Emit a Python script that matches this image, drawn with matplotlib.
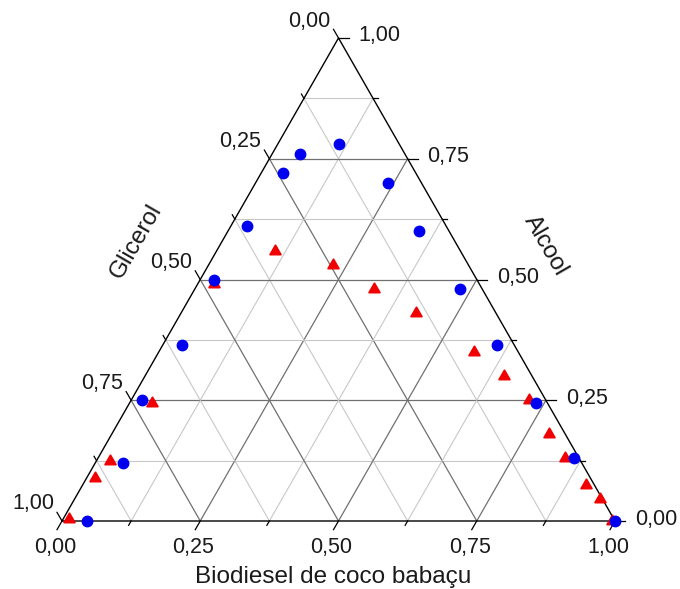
import matplotlib
matplotlib.use('Agg')
import matplotlib.pyplot as plt
import numpy as np

plt.rcParams['font.family'] = ['Liberation Sans', 'DejaVu Sans']

# composicoes (fracao) : biodiesel, alcool, glicerol
circ_biodiesel = [0.11, 0.05, 0.04, 0.24, 0.03, 0.345, 0.025, 0.48,
                  0.035, 0.605, 0.02, 0.735, 0.05, 0.86, 0.045, 1.00]
circ_alcool = [0.78, 0.76, 0.72, 0.70, 0.61, 0.60, 0.50, 0.48,
               0.365, 0.365, 0.25, 0.245, 0.12, 0.13, 0.00, 0.00]
circ_glicerol = [0.11, 0.19, 0.24, 0.06, 0.36, 0.055, 0.475, 0.04,
                 0.60, 0.03, 0.73, 0.02, 0.83, 0.01, 0.955, 0.00]

tri_biodiesel = [0.105, 0.225, 0.325, 0.425, 0.03, 0.57, 0.65, 0.72, 0.79,
                 0.845, 0.91, 0.95, 0.995, 0.04, 0.025, 0.015, 0.01]
tri_alcool = [0.56, 0.53, 0.48, 0.43, 0.49, 0.35, 0.30, 0.25, 0.18,
              0.13, 0.075, 0.045, 0.00, 0.245, 0.125, 0.09, 0.005]
tri_glicerol = [0.335, 0.245, 0.195, 0.145, 0.48, 0.08, 0.05, 0.03, 0.03,
                0.025, 0.015, 0.005, 0.005, 0.715, 0.85, 0.895, 0.985]

tick_labels = ['0,00', '0,25', '0,50', '0,75', '1,00']
grid_steps = [0.125, 0.25, 0.375, 0.5, 0.625, 0.75, 0.875]
major_steps = [0.25, 0.5, 0.75]

H = np.sqrt(3) / 2


def to_xy(b, a, g):
    b, a, g = np.asarray(b, float), np.asarray(a, float), np.asarray(g, float)
    s = b + a + g
    b, a = b / s, a / s
    return b + a / 2, a * H


fig = plt.figure(figsize=(6.8, 5.89), dpi=100)
ax = fig.add_axes([62 / 680, 68 / 589, 553 / 680, 483 / 589])
ax.set_xlim(0, 1)
ax.set_ylim(0, H)
ax.axis('off')

# pixel -> data
px_x = 1.0 / (fig.get_figwidth() * fig.dpi * ax.get_position().width)
px_y = H / (fig.get_figheight() * fig.dpi * ax.get_position().height)

# grade
for v in grid_steps:
    if v in major_steps:
        col, lw = '#707070', 0.9
    else:
        col, lw = '#c8c8c8', 0.8
    # alcool constante
    ax.plot([v / 2, 1 - v / 2], [v * H, v * H], color=col, lw=lw, zorder=1)
    # biodiesel constante
    ax.plot([v, v + (1 - v) / 2], [0, (1 - v) * H], color=col, lw=lw, zorder=1)
    # glicerol constante
    ax.plot([(1 - v) / 2, 1 - v], [(1 - v) * H, 0], color=col, lw=lw, zorder=1)

# bordas
ax.plot([0, 1, 0.5, 0], [0, 0, H, 0], color='black', lw=1.0, zorder=2,
        clip_on=False)

# marcas dos eixos
txt_kw = dict(fontsize=15.5, color='#1a1a1a', textcoords='offset pixels')
for i, v in enumerate(np.arange(0, 1.0001, 0.125)):
    L = 10 if i % 2 == 0 else 5
    # inferior: biodiesel
    x0, y0 = v, 0
    ax.plot([x0, x0 - 0.5 * L * px_x], [y0, y0 - 0.866 * L * px_y],
            color='black', lw=0.9, clip_on=False)
    # esquerda: glicerol (1 embaixo)
    x0, y0 = (1 - v) / 2, (1 - v) * H
    ax.plot([x0, x0 - 0.5 * L * px_x], [y0, y0 + 0.866 * L * px_y],
            color='black', lw=0.9, clip_on=False)
    # direita: alcool
    x0, y0 = 1 - v / 2, v * H
    ax.plot([x0, x0 + L * px_x], [y0, y0], color='black', lw=0.9,
            clip_on=False)
    if i % 2 == 0:
        lab = tick_labels[i // 2]
        ax.annotate(lab, (v, 0), xytext=(-7, -27), ha='center',
                    va='center', **txt_kw)
        ax.annotate(lab, ((1 - v) / 2, (1 - v) * H), xytext=(-8, 17),
                    ha='right', va='center', **txt_kw)
        ax.annotate(lab, (1 - v / 2, v * H), xytext=(20, 2), ha='left',
                    va='center', **txt_kw)

# titulos dos eixos
title_kw = dict(fontsize=17.5, color='#1a1a1a', textcoords='offset pixels',
                ha='center', va='center')
ax.annotate('Biodiesel de coco babaçu', (0.5, 0), xytext=(-5, -56),
            **title_kw)
ax.annotate('Glicerol', (0.25, H / 2), xytext=(-64, 38), rotation=60,
            **title_kw)
ax.annotate('Alcool', (0.75, H / 2), xytext=(69, 34), rotation=-60,
            **title_kw)

# pontos
tx, ty = to_xy(tri_biodiesel, tri_alcool, tri_glicerol)
ax.plot(tx, ty, linestyle='none', marker=(3, 0, 0), markersize=9.5,
        color='#f00000', zorder=3, clip_on=False)
cx, cy = to_xy(circ_biodiesel, circ_alcool, circ_glicerol)
ax.plot(cx, cy, linestyle='none', marker='o', markersize=7.5,
        color='#0000f0', zorder=4, clip_on=False)

fig.savefig('out.png', dpi=100)
